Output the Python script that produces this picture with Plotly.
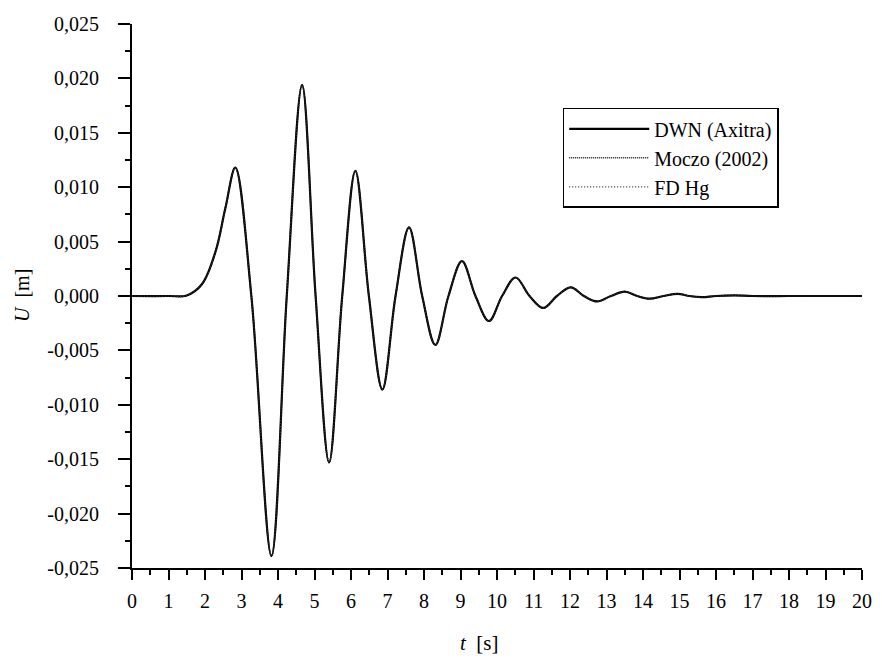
import plotly.graph_objects as go

# time [s] and displacement [m] (extrema + zero crossings)
t_s = [0, 1.0, 1.5, 1.92, 2.29, 2.56, 2.83, 3.27, 3.82, 4.24, 4.66, 5.03,
       5.40, 5.76, 6.12, 6.49, 6.86, 7.22, 7.59, 7.95, 8.31, 8.67, 9.04, 9.41,
       9.78, 10.14, 10.51, 10.89, 11.27, 11.64, 12.02, 12.38, 12.74, 13.12,
       13.5, 13.84, 14.18, 14.56, 14.95, 15.27, 15.6, 16.0, 16.5, 17.0, 18.0,
       19.0, 20.0]
u_dwn = [0, 0, 0.00005, 0.0011, 0.0041, 0.0081, 0.0118, 0.0, -0.0239,
         0.0, 0.0194, 0.0, -0.0153, 0.0, 0.0115, 0.0, -0.0086, 0.0, 0.0063,
         0.0, -0.0045, 0.0, 0.0032, 0.0, -0.0023, 0.0, 0.0017, 0.0, -0.0011,
         0.0, 0.0008, 0.0, -0.0005, 0.0, 0.0004, 0.0, -0.00025, 0.0, 0.0002,
         0.0, -0.0001, 0.0, 0.00005, 0.0, 0.0, 0.0, 0.0]
u_moczo = list(u_dwn)
u_fdhg = list(u_dwn)

series_names = ["DWN (Axitra)", "Moczo (2002)", "FD Hg"]

y_tickvals = [-0.025, -0.020, -0.015, -0.010, -0.005, 0.0, 0.005, 0.010, 0.015, 0.020, 0.025]
y_ticktext = ["-0,025", "-0,020", "-0,015", "-0,010", "-0,005", "0,000",
              "0,005", "0,010", "0,015", "0,020", "0,025"]
x_tickvals = list(range(0, 21))
x_ticktext = [str(v) for v in x_tickvals]

FONT = "Liberation Serif, Times New Roman, serif"

fig = go.Figure()
fig.add_trace(go.Scatter(x=t_s, y=u_dwn, name=series_names[0], mode="lines",
                         line=dict(color="black", width=2.2, shape="spline", smoothing=1.0)))
fig.add_trace(go.Scatter(x=t_s, y=u_moczo, name=series_names[1], mode="lines",
                         line=dict(color="#111111", width=1.6, dash="1px,1px", shape="spline", smoothing=1.0)))
fig.add_trace(go.Scatter(x=t_s, y=u_fdhg, name=series_names[2], mode="lines",
                         line=dict(color="#333333", width=1.2, dash="1px,2px", shape="spline", smoothing=1.0)))

fig.update_layout(
    width=882, height=658,
    margin=dict(l=132, r=10, t=24, b=90),
    paper_bgcolor="white", plot_bgcolor="white",
    font=dict(family=FONT, size=20, color="black"),
    showlegend=True,
    legend=dict(x=0.59, y=0.846, xanchor="left", yanchor="top",
                bordercolor="black", borderwidth=1.5, bgcolor="white",
                font=dict(family=FONT, size=20), itemwidth=80,
                tracegroupgap=0),
    xaxis=dict(range=[0, 20], tickvals=x_tickvals, ticktext=x_ticktext,
               showgrid=False, zeroline=False, showline=True, linecolor="black",
               linewidth=2, ticks="outside", ticklen=10, tickwidth=2,
               tickcolor="black", ticklabelstandoff=4,
               tickfont=dict(family=FONT, size=20),
               minor=dict(dtick=0.5, ticks="outside", ticklen=5, tickwidth=2,
                          tickcolor="black", showgrid=False)),
    yaxis=dict(range=[-0.025, 0.025], tickvals=y_tickvals, ticktext=y_ticktext,
               showgrid=False, zeroline=False, showline=True, linecolor="black",
               linewidth=2, ticks="outside", ticklen=12, tickwidth=2,
               tickcolor="black", ticklabelstandoff=15,
               tickfont=dict(family=FONT, size=20),
               minor=dict(dtick=0.0025, tick0=0, ticks="outside", ticklen=5, tickwidth=2,
                          tickcolor="black", showgrid=False)),
    annotations=[
        dict(text="<i>t</i>  [s]", xref="paper", yref="paper", x=0.476, y=0,
             yshift=-75, xanchor="center", yanchor="middle", showarrow=False,
             font=dict(family=FONT, size=21)),
        dict(text="<i>U</i>  [m]", xref="paper", yref="paper", x=0, y=0.5,
             xshift=-110, xanchor="center", yanchor="middle", showarrow=False,
             textangle=-90, font=dict(family=FONT, size=20)),
    ],
)

fig.write_html("out.html", config={"displayModeBar": False},
               post_script="document.body.style.margin='0';")
